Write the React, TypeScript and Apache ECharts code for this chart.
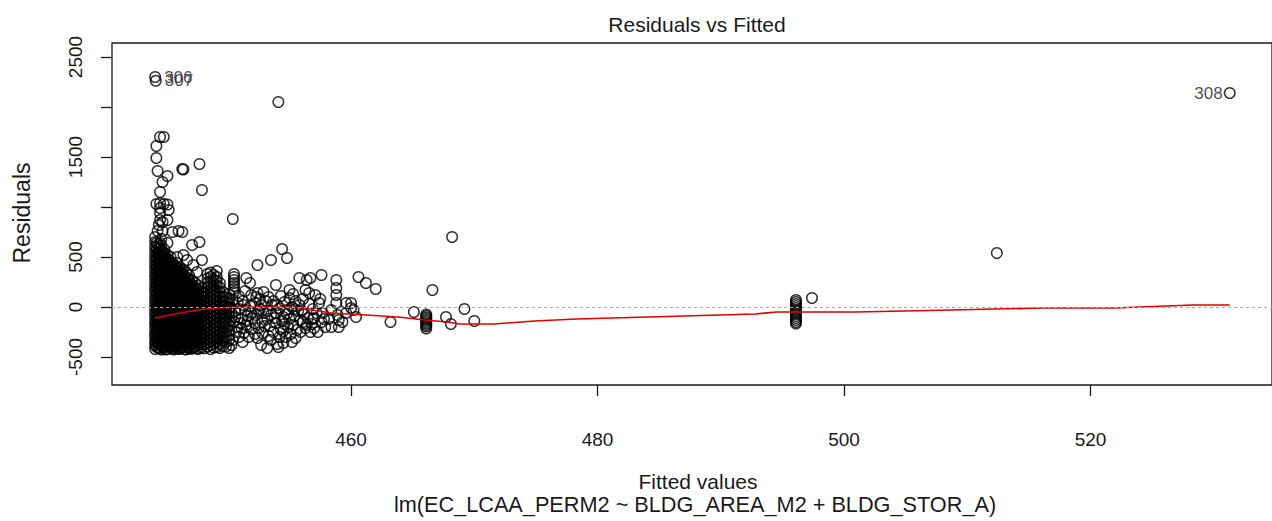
import React, { useEffect, useRef } from "react";
import * as echarts from "echarts";

// ---- axis ticks ----
const xTickValues = [460, 480, 500, 520];
const yTickValues = [-500, 0, 500, 1000, 1500, 2000, 2500];
const yLabelValues = [-500, 0, 500, 1500, 2500];

// ---- dense cluster (fitted value of each column, residuals read per column) ----
const denseFitted = [
  444.1, 444.35, 444.6, 444.85, 445.1, 445.35, 445.6, 445.85, 446.1, 446.35, 446.6, 446.85, 447.1,
  447.35, 447.6, 447.85, 448.1, 448.35, 448.6, 448.85, 449.1, 449.35, 449.6, 449.85, 450.1,
];
const denseResiduals = [
  [-420, -380, -345, -300, -262, -220, -178, -140, -95, -55, -12, 30, 72, 115, 160, 200, 245, 290, 330, 378, 420, 465, 510, 555, 600, 650, 700],
  [-405, -362, -320, -280, -238, -198, -155, -115, -75, -32, 10, 52, 95, 138, 180, 225, 268, 312, 355, 400, 445, 490, 535, 580, 625],
  [-425, -385, -340, -300, -258, -215, -175, -132, -92, -50, -8, 35, 78, 120, 165, 208, 250, 295, 340, 385, 430, 475, 520, 565, 615, 680],
  [-410, -370, -328, -288, -245, -205, -162, -122, -80, -40, 2, 45, 88, 130, 175, 215, 260, 305, 350, 392, 438, 482, 530, 575],
  [-420, -378, -335, -295, -252, -210, -170, -128, -88, -45, -5, 40, 82, 125, 168, 212, 255, 298, 342, 388, 432, 478, 520],
  [-400, -360, -318, -275, -235, -192, -150, -110, -68, -25, 18, 60, 102, 148, 190, 235, 278, 320, 365, 410, 455, 500],
  [-425, -382, -340, -298, -258, -215, -172, -132, -90, -48, -6, 38, 80, 122, 165, 210, 252, 296, 340, 385, 430],
  [-410, -368, -325, -285, -242, -200, -160, -118, -76, -35, 8, 50, 92, 135, 178, 222, 265, 308, 352, 398, 440],
  [-418, -375, -332, -292, -250, -208, -165, -125, -82, -40, 0, 44, 86, 128, 172, 215, 258, 300, 348, 400],
  [-400, -358, -315, -272, -232, -190, -148, -106, -65, -22, 20, 62, 105, 148, 192, 235, 280, 325, 372],
  [-425, -380, -338, -296, -255, -212, -170, -128, -86, -44, -2, 40, 84, 126, 170, 212, 256, 300, 345],
  [-408, -365, -322, -280, -240, -198, -156, -114, -72, -30, 12, 55, 98, 140, 184, 228, 272, 318],
  [-415, -372, -330, -290, -248, -205, -162, -120, -80, -38, 4, 46, 90, 132, 176, 222, 265],
  [-398, -356, -314, -272, -230, -188, -146, -104, -62, -20, 22, 65, 108, 150, 195, 240],
  [-420, -378, -335, -292, -250, -210, -168, -126, -84, -42, 0, 42, 85, 128, 172, 215],
  [-405, -362, -320, -278, -238, -195, -152, -110, -68, -26, 16, 58, 100, 145, 190],
  [-412, -370, -328, -286, -244, -202, -160, -118, -76, -34, 8, 50, 95, 140],
  [-395, -352, -310, -268, -226, -184, -142, -100, -58, -16, 26, 68, 110, 152, 196, 240, 285, 330],
  [-420, -380, -338, -296, -254, -212, -170, -128, -86, -44, -2, 40, 82, 124, 166, 210, 255, 300, 345],
  [-405, -360, -318, -276, -234, -192, -150, -108, -66, -24, 18, 60, 102, 144, 188, 232, 276, 320],
  [-400, -345, -300, -258, -215, -172, -130, -88, -46, -4, 38, 80, 122, 165, 210, 260, 300],
  [-410, -370, -322, -280, -236, -194, -152, -110, -68, -26, 16, 58, 100, 145, 195, 240],
  [-390, -335, -290, -245, -200, -155, -112, -70, -28, 14, 58, 102, 150],
  [-395, -350, -300, -255, -210, -165, -120, -78, -35, 8, 52, 95],
  [-410, -330, -280, -232, -186, -140, -96, -52, -8, 36, 82, 130],
];

// ---- in-between columns of the solid part of the cluster ----
const fillFitted = [
  444.22, 444.47, 444.72, 444.97, 445.22, 445.47, 445.72, 445.97, 446.22, 446.47, 446.72, 446.97,
  447.22, 447.47,
];
const fillResiduals = [
  [-400, -358, -322, -276, -240, -196, -160, -118, -74, -34, 8, 50, 94, 136, 182, 222, 266, 310, 352, 398, 442, 488, 532, 578, 640],
  [-415, -372, -330, -290, -248, -206, -164, -124, -84, -42, -2, 42, 84, 128, 172, 214, 258, 302, 346, 392, 436, 480, 525, 590],
  [-396, -356, -312, -270, -228, -186, -144, -102, -60, -18, 24, 66, 110, 152, 196, 238, 282, 326, 370, 414, 458, 505, 550],
  [-425, -384, -344, -304, -262, -222, -180, -140, -98, -58, -16, 26, 68, 112, 154, 198, 240, 284, 328, 372, 418, 462, 500],
  [-392, -350, -308, -266, -224, -182, -140, -98, -56, -14, 28, 70, 114, 158, 200, 244, 288, 332, 376, 420, 470],
  [-415, -374, -332, -290, -248, -206, -164, -122, -80, -38, 4, 46, 90, 134, 176, 220, 262, 306, 350, 394, 440],
  [-398, -356, -314, -272, -230, -188, -146, -104, -62, -20, 22, 64, 108, 150, 194, 238, 282, 326, 370, 410],
  [-420, -380, -338, -296, -254, -212, -170, -128, -86, -44, -2, 40, 82, 126, 168, 212, 256, 300, 345, 385],
  [-405, -364, -322, -280, -238, -196, -154, -112, -70, -28, 14, 56, 98, 142, 186, 230, 274, 320, 360],
  [-420, -378, -336, -294, -252, -210, -168, -126, -84, -42, 0, 42, 86, 130, 174, 218, 262, 308],
  [-400, -358, -316, -274, -232, -190, -148, -106, -64, -22, 20, 62, 106, 150, 194, 240, 285],
  [-418, -376, -334, -292, -250, -208, -166, -124, -82, -40, 2, 44, 88, 130, 174, 218],
  [-402, -360, -318, -276, -234, -192, -150, -108, -66, -24, 18, 60, 104, 148, 192],
  [-414, -372, -330, -288, -246, -204, -162, -120, -78, -36, 6, 48, 92, 136],
];

// ---- vertical stacks of tied fitted values ----
const stackFitted = [450.5, 466.1, 496.1];
const stackResiduals = [
  [330, 300, 270, 240, 210, 180, 150],
  [-75, -90, -105, -120, -135, -150, -165, -180, -195, -215],
  [70, 50, 30, 10, -10, -30, -50, -70, -90, -110, -130, -150, -165],
];

// ---- sparse points above the cluster [fitted, residual] ----
const upperPoints: [number, number][] = [
  [444.5, 1700], [444.8, 1700], [444.2, 1610], [444.2, 1490], [444.3, 1360], [445.1, 1310],
  [444.7, 1250], [444.5, 1150], [446.3, 1380], [446.4, 1375], [447.7, 1430], [447.9, 1170],
  [450.4, 880], [444.2, 1030], [444.5, 1040], [444.8, 1030], [445.1, 1025], [444.5, 990],
  [445.2, 970], [444.5, 940], [444.5, 870], [445.1, 870], [444.7, 850], [444.4, 820], [444.3, 760],
  [444.7, 760], [445.5, 750], [446.0, 760], [446.3, 750], [447.1, 620], [447.7, 650], [447.9, 470],
  [449.1, 360], [452.4, 420], [453.5, 470], [454.4, 580], [454.8, 490], [454.1, 2050], [444.5, 640],
  [445.1, 640], [445.9, 500], [446.4, 520], [446.7, 470], [447.2, 420], [447.5, 350],
];

// ---- scattered points right of the cluster [fitted, residual] ----
const midPoints: [number, number][] = [
  [450.3, -60], [450.5, -150], [450.7, -250], [450.4, -330], [450.8, 40], [450.9, -20], [450.6, -100],
  [450.8, -200], [450.3, -380], [450.9, 110],
  [451.2, 60], [451.4, -30], [451.1, -120], [451.5, -180], [451.3, -260], [451.7, -300], [451.9, -220],
  [451.6, -90], [451.8, 10], [451.5, 290], [451.8, 240], [451.2, -350], [451.9, 120], [451.4, 160],
  [452.4, 140], [452.9, 150], [452.2, 40], [452.6, -20], [452.3, -80], [452.8, -150], [452.5, -210],
  [452.2, -270], [452.4, -310], [452.7, -380], [452.9, -60], [452.6, 80], [452.2, -160],
  [453.9, 220], [453.3, 100], [453.6, 20], [453.2, -40], [453.8, -110], [453.4, -190], [453.7, -250],
  [453.5, -330], [454.0, -370], [453.9, -60], [453.2, -120], [453.7, 60],
  [455.0, 170], [454.3, 110], [454.6, 50], [454.2, -10], [454.8, -70], [454.4, -140], [454.9, -200],
  [454.5, -240], [454.2, -300], [454.8, -30], [454.1, -400], [454.6, -170], [455.0, 90],
  [455.8, 290], [455.3, 130], [455.5, 60], [455.2, 0], [455.7, -40], [455.4, -90], [455.9, -130],
  [455.3, -180], [455.6, -230], [455.1, -270], [455.8, 20], [455.5, -310],
  [456.4, 270], [456.7, 290], [456.3, 170], [456.6, 140], [456.1, 80], [456.6, 30], [456.9, -20],
  [456.2, -70], [456.5, -110], [456.8, -170], [456.3, -210], [456.7, -250], [456.1, -150],
  [457.6, 320], [457.1, 120], [457.4, 40], [457.2, -60], [457.8, -120], [457.6, -150], [457.9, -200],
  [457.0, -210], [457.0, -110], [457.7, -60],
  [458.8, 270], [458.8, 190], [458.8, 120], [458.8, 40], [458.4, -30], [458.9, -80], [458.2, -120],
  [458.4, -200], [459.0, -200], [459.0, -130],
  [459.6, 40], [459.6, -60], [459.3, -150], [460.0, -10], [460.0, 40],
  [460.6, 300], [461.2, 240], [462.0, 180], [460.4, -100], [460.2, -30], [463.2, -150],
];

// ---- extra points filling the darker band right of the cluster [fitted, residual] ----
const bandPoints: [number, number][] = [
  [450.2, 0], [450.4, 70], [450.6, -40], [450.9, -300], [451.0, -160], [451.3, 20], [451.6, -140],
  [451.9, -60], [451.1, -210], [452.0, -110], [452.3, 100], [452.5, -40], [452.7, 20], [452.8, -260],
  [453.0, -190], [453.1, 60], [453.3, -290], [453.5, -80], [453.9, -160], [454.0, 20], [454.3, -220],
  [454.5, -100], [454.7, -300], [455.0, -120], [455.2, -350], [455.4, -20], [455.9, -250], [456.0, -40],
  [456.4, -180], [456.9, -120], [457.3, -250], [457.5, 80], [453.2, -410], [454.5, -360],
];

// ---- far points [fitted, residual] ----
const farPoints: [number, number][] = [
  [465.1, -50], [466.6, 170], [468.2, 700], [467.7, -100], [468.1, -170], [469.2, -20], [470.0, -140],
  [497.4, 90], [512.4, 540],
];

// ---- labelled observations ----
const labelIds = ["306", "307", "308"];
const labelFitted = [444.1, 444.15, 531.3];
const labelResiduals = [2300, 2262, 2140];

// ---- lowess smoother ----
const lowessFitted = [
  444.1, 445.7, 447.5, 449.1, 451.8, 455.5, 456.8, 458.4, 461.2, 463.8, 466.0, 467.8, 468.8, 471.6,
  474.9, 478.3, 492.8, 494.5, 501.0, 508.7, 516.1, 521.9, 528.3, 531.3,
];
const lowessResiduals = [
  -110, -70, -30, -10, 0, -3, -30, -60, -80, -100, -130, -150, -170, -170, -140, -120, -70, -50, -50,
  -30, -10, -10, 20, 20,
];

const FONT = "'Liberation Sans', Arial, Helvetica, sans-serif";
const INK = "#1a1a1a";

export default function App() {
  const ref = useRef<HTMLDivElement>(null);

  useEffect(() => {
    if (!ref.current) return;
    const chart = echarts.init(ref.current, undefined, { renderer: "svg" });

    const obs: number[][] = [];
    denseFitted.forEach((x, i) => denseResiduals[i].forEach((y) => obs.push([x, y])));
    fillFitted.forEach((x, i) => fillResiduals[i].forEach((y) => obs.push([x, y])));
    stackFitted.forEach((x, i) => stackResiduals[i].forEach((y) => obs.push([x, y])));
    upperPoints.forEach((p) => obs.push([p[0], p[1]]));
    midPoints.forEach((p) => obs.push([p[0], p[1]]));
    bandPoints.forEach((p) => obs.push([p[0], p[1]]));
    farPoints.forEach((p) => obs.push([p[0], p[1]]));

    const xMid = (440.6 + 534.73) / 2;

    const textStyle = (text: string, size: number) => ({
      text,
      fontSize: size,
      fontFamily: FONT,
      fill: INK,
      align: "center",
      verticalAlign: "middle",
      textAlign: "center",
      textVerticalAlign: "middle",
    });

    const option: any = {
      animation: false,
      backgroundColor: "#ffffff",
      grid: {
        left: 112,
        top: 43,
        width: 1171,
        height: 342,
        show: true,
        borderColor: INK,
        borderWidth: 1.3,
        backgroundColor: "transparent",
        containLabel: false,
      },
      xAxis: {
        type: "value",
        min: 440.6,
        max: 534.73,
        axisLine: { show: false, onZero: false },
        splitLine: { show: false },
        axisTick: {
          show: true,
          length: 11,
          customValues: xTickValues,
          lineStyle: { color: INK, width: 1.3 },
        },
        axisLabel: {
          show: true,
          customValues: xTickValues,
          formatter: (v: number) => String(v),
          margin: 45,
          fontSize: 19,
          fontFamily: FONT,
          color: INK,
        },
      },
      yAxis: {
        type: "value",
        min: -780,
        max: 2640,
        axisLine: { show: false, onZero: false },
        splitLine: { show: false },
        axisTick: {
          show: true,
          length: 11,
          customValues: yTickValues,
          lineStyle: { color: INK, width: 1.3 },
        },
        axisLabel: {
          show: true,
          customValues: yLabelValues,
          formatter: (v: number) => String(v),
          rotate: 90,
          margin: 27,
          fontSize: 19,
          fontFamily: FONT,
          color: INK,
        },
      },
      graphic: [
        { type: "text", x: 697, y: 24, style: textStyle("Residuals vs Fitted", 21) },
        { type: "text", x: 698, y: 481, style: textStyle("Fitted values", 21) },
        {
          type: "text",
          x: 695,
          y: 504,
          style: textStyle("lm(EC_LCAA_PERM2 ~ BLDG_AREA_M2 + BLDG_STOR_A)", 21.7),
        },
        { type: "text", x: 22, y: 213, rotation: Math.PI / 2, style: textStyle("Residuals", 23) },
      ],
      series: [
        {
          type: "scatter",
          name: "obs",
          data: obs,
          symbol: "circle",
          symbolSize: 10.5,
          silent: true,
          itemStyle: { color: "rgba(0,0,0,0)", borderColor: "#000", borderWidth: 1.5 },
          z: 2,
          markLine: {
            silent: true,
            symbol: ["none", "none"],
            label: { show: false },
            lineStyle: { color: "#a8a8a8", type: [3, 3], width: 1 },
            data: [{ yAxis: 0 }],
          },
        },
        {
          type: "scatter",
          name: "labelled",
          symbol: "circle",
          symbolSize: 10.5,
          silent: true,
          itemStyle: { color: "rgba(0,0,0,0)", borderColor: "#000", borderWidth: 1.5 },
          z: 2,
          data: labelIds.map((id, i) => ({
            value: [labelFitted[i], labelResiduals[i]],
            name: id,
            label: {
              show: true,
              formatter: id,
              position: labelFitted[i] < xMid ? "right" : "left",
              distance: labelFitted[i] < xMid ? 3 : 1,
              fontSize: 17,
              fontFamily: FONT,
              color: "#222",
            },
          })),
        },
        {
          type: "line",
          name: "lowess",
          data: lowessFitted.map((x, i) => [x, lowessResiduals[i]]),
          symbol: "none",
          silent: true,
          lineStyle: { color: "#e00000", width: 1.6 },
          z: 3,
        },
      ],
    };

    chart.setOption(option);
    return () => chart.dispose();
  }, []);

  return (
    <div
      ref={ref}
      style={{ position: "absolute", left: 0, top: 0, width: 1272, height: 521, background: "#fff" }}
    />
  );
}
